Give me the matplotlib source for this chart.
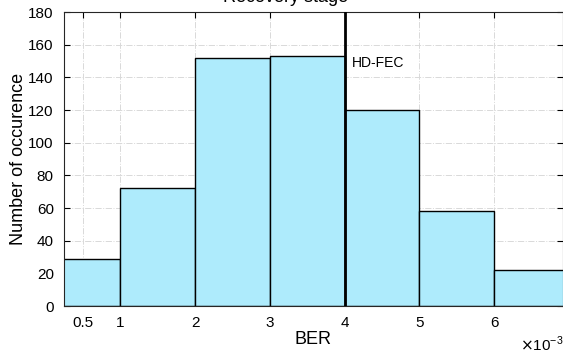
import numpy as np
import matplotlib
matplotlib.use("Agg")
import matplotlib.pyplot as plt

bin_edges = [0, 1, 2, 3, 4, 5, 6, 7]
counts = [29, 72, 152, 153, 120, 58, 22]
x_ticks = [0.5, 1, 2, 3, 4, 5, 6]
x_ticklabels = ["0.5", "1", "2", "3", "4", "5", "6"]
y_ticks = list(range(0, 181, 20))
hd_fec = 4.0

plt.rcParams["font.family"] = ["Liberation Sans", "DejaVu Sans"]

fig = plt.figure(figsize=(5.63, 3.6), dpi=100)
ax = fig.add_axes([63.5 / 563, 1 - 306 / 360, 1 - 63.5 / 563, (306 - 12) / 360])

widths = np.diff(bin_edges)
ax.bar(bin_edges[:-1], counts, width=widths, align="edge",
       color="#aeebfc", edgecolor="black", linewidth=1.0, zorder=2)
ax.axvline(hd_fec, color="black", linewidth=2.0, zorder=3)
ax.text(hd_fec + 0.1, 149, "HD-FEC", fontsize=10, va="center", ha="left")

ax.set_xlim(0.24, 6.92)
ax.set_ylim(0, 180)
ax.set_xticks(x_ticks)
ax.set_xticklabels(x_ticklabels)
ax.set_yticks(y_ticks)
ax.tick_params(direction="in", top=True, right=True, labelsize=11,
               length=4, width=0.8, pad=7)
ax.grid(True, color="#d9d9d9", linestyle="-.", linewidth=0.7, zorder=0)
ax.set_axisbelow(True)
for s in ax.spines.values():
    s.set_color("#262626")
    s.set_linewidth(0.8)

ax.set_xlabel("BER", fontsize=13, labelpad=1)
ax.set_ylabel("Number of occurence", fontsize=13, labelpad=1)
fig.text(520 / 563, 1 - 344 / 360, r"$\times$10$^{\mathregular{-3}}$", fontsize=11,
         ha="left", va="center")
fig.text(286 / 563, 1 - 6 / 360, "Recovery stage", fontsize=13, ha="center",
         va="bottom")

fig.savefig("out.png", dpi=100)
